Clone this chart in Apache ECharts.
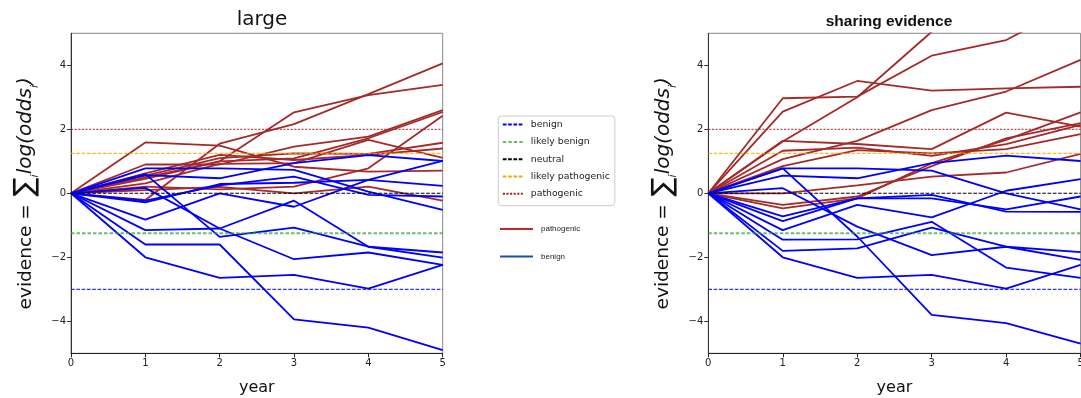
<!DOCTYPE html>
<html><head><meta charset="utf-8">
<script src="https://cdn.jsdelivr.net/npm/echarts@6/dist/echarts.min.js"></script>
<style>html,body{margin:0;padding:0;background:#fff}#c{width:1081px;height:398px}</style>
</head><body><div id="c"></div><script>
// ---- data ----
const years = [0, 1, 2, 3, 4, 5];
const yTicks = [-4, -2, 0, 2, 4];
const thresholdNames = ['benign', 'likely benign', 'neutral', 'likely pathogenic', 'pathogenic'];
const thresholdValues = [-3, -1.25, 0, 1.25, 2];
const panelTitles = ['large', 'sharing evidence'];

const largePathogenic = [
  [0, -0.21, 1.55, 2.16, 3.10, 4.06],
  [0, 0.45, 1.00, 2.53, 3.07, 3.39],
  [0, 1.59, 1.49, 0.83, 0.68, 0.71],
  [0, 0.90, 0.90, 1.46, 1.77, 2.60],
  [0, 0.50, 1.00, 1.09, 1.72, 2.54],
  [0, 0.55, 1.10, 1.25, 1.23, 1.58],
  [0, 0.62, 1.20, 1.04, 1.20, 1.40],
  [0, 0.31, 0.92, 0.94, 1.67, 1.11],
  [0, 0.21, 0.12, 0.21, 0.78, 2.42],
  [0, 0.10, 0.20, 0.00, 0.21, -0.23]
];
const largeBenign = [
  [0, 0.78, 0.78, 0.73, 0.05, -0.52],
  [0, 0.60, -1.36, -1.07, -1.67, -2.01],
  [0, 0.57, 0.47, 0.94, 1.19, 1.01],
  [0, 0.17, -1.10, -2.06, -1.85, -2.24],
  [0, -0.23, 0.25, 0.52, -0.05, -0.10],
  [0, -0.28, 0.29, 0.33, 0.42, 0.23],
  [0, -0.82, 0.00, -0.42, 0.42, 1.01],
  [0, -1.15, -1.10, -0.23, -1.67, -1.85],
  [0, -1.60, -1.60, -3.94, -4.20, -4.90],
  [0, -2.00, -2.64, -2.55, -2.98, -2.24]
];
const sharingPathogenic = [
  [0, 2.97, 3.02, 4.30, 4.79, 6.00],
  [0, 1.62, 3.00, 5.05, 5.90, 6.50],
  [0, 2.55, 3.51, 3.21, 3.28, 3.33],
  [0, 1.07, 1.64, 2.60, 3.18, 4.17],
  [0, 1.64, 1.54, 1.38, 2.52, 2.08],
  [0, 1.33, 1.43, 1.17, 1.54, 2.14],
  [0, 0.85, 1.35, 1.25, 1.38, 1.85],
  [0, 0.00, 0.25, 0.52, 0.65, 1.23],
  [0, -0.47, -0.16, 0.94, 1.67, 2.53],
  [0, -0.36, -0.10, 0.85, 1.72, 2.19]
];
const sharingBenign = [
  [0, 0.78, 0.78, 0.71, 0.00, -0.50],
  [0, 0.78, -1.35, -3.80, -4.06, -4.70],
  [0, 0.55, 0.47, 0.94, 1.18, 1.01],
  [0, 0.16, -1.04, -1.93, -1.67, -1.84],
  [0, -0.72, -0.16, -0.16, -0.50, -0.10],
  [0, -0.87, -0.16, -0.05, -0.57, -0.58],
  [0, -1.15, -0.36, -0.75, 0.08, 0.44],
  [0, -1.45, -1.44, -0.89, -2.32, -2.64],
  [0, -1.80, -1.72, -1.07, -1.67, -2.08],
  [0, -2.00, -2.64, -2.55, -2.98, -2.24]
];

// ---- styles ----
const RED = '#a52a2a', BLUE = '#0000ff';
const thresholdStyles = [
  {color: '#0000ff', width: 1, type: [3.7, 1.6]},
  {color: 'rgba(44,160,44,0.7)', width: 2, type: [3.5, 2]},
  {color: '#000000', width: 1.1, type: [3.7, 1.6]},
  {color: '#ffa500', width: 1, type: [3.7, 1.6]},
  {color: '#a52a2a', width: 1, type: [2.2, 1.4]}
];
const FONT = 'DejaVu Sans';
const NOSYM = {color: 'transparent', borderColor: 'transparent', borderWidth: 0};

function lineSeries(rows, g, name, color) {
  return rows.map(r => ({
    type: 'line', name: name, xAxisIndex: g, yAxisIndex: g,
    data: years.map((x, i) => [x, r[i]]),
    symbol: 'none', clip: true, silent: true, z: 3,
    lineStyle: {color: color, width: 1.8}, itemStyle: {color: color}
  }));
}
function thresholdSeries(g) {
  return thresholdNames.map((n, k) => ({
    type: 'line', name: n, xAxisIndex: g, yAxisIndex: g,
    data: [[years[0], thresholdValues[k]], [years[years.length - 1], thresholdValues[k]]],
    symbol: 'none', silent: true, z: 4,
    lineStyle: thresholdStyles[k], itemStyle: {color: thresholdStyles[k].color}
  }));
}

const grids = [
  {left: 71, top: 33.3, width: 371.7, height: 320},
  {left: 708.3, top: 33.3, width: 372.3, height: 320}
];
const yName = '{n|evidence = }{s|\u2211}{b|i}{o|log(odds}{b|i}{o|)}';

const option = {
  animation: false,
  backgroundColor: '#fff',
  title: [
    {text: panelTitles[0], left: 257, top: 5, textAlign: 'center',
     textStyle: {fontFamily: FONT, fontSize: 20, fontWeight: 'normal', color: '#111'}},
    {text: panelTitles[1], left: 884, top: 9, textAlign: 'center',
     textStyle: {fontFamily: 'Liberation Sans', fontSize: 15.5, fontWeight: 'bold', color: '#111'}}
  ],
  grid: grids.map(g => Object.assign({show: true, borderColor: '#888', borderWidth: 1,
    backgroundColor: 'transparent', containLabel: false, outerBoundsMode: 'none'}, g)),
  legend: [
    {data: thresholdNames.map(n => ({name: n, itemStyle: NOSYM})), orient: 'vertical', left: 498.3, top: 116, selectedMode: false,
     padding: [3.8, 5, 7, 3.5], itemWidth: 20, itemHeight: 12, itemGap: 7.7,
     itemStyle: NOSYM,
     borderColor: '#cccccc', borderWidth: 1, borderRadius: 3, backgroundColor: '#fff',
     textStyle: {fontFamily: FONT, fontSize: 9.3, color: '#222', padding: [0, 0, 0, 3]}},
    {data: [
       {name: 'pathogenic lines', lineStyle: {color: '#c62828', width: 2, type: 'solid'}, itemStyle: NOSYM},
       {name: 'benign lines', lineStyle: {color: '#1f4fb0', width: 2, type: 'solid'}, itemStyle: NOSYM}
     ],
     orient: 'vertical', left: 499, top: 225, selectedMode: false, padding: 0,
     itemWidth: 33, itemHeight: 10, itemGap: 19.4, itemStyle: NOSYM,
     formatter: n => n.replace(' lines', ''),
     textStyle: {fontFamily: 'Liberation Sans', fontSize: 8, color: '#222', padding: [0, 0, 0, 3]}}
  ],
  xAxis: [0, 1].map(g => ({
    type: 'value', gridIndex: g, min: years[0], max: years[years.length - 1], interval: 1,
    name: 'year', nameLocation: 'middle', nameGap: 27,
    nameTextStyle: {fontFamily: FONT, fontSize: 16, color: '#111'},
    axisLine: {show: true, onZero: false, lineStyle: {color: '#222', width: 1}},
    axisTick: {show: true, length: 4, lineStyle: {color: '#222'}},
    axisLabel: {fontFamily: FONT, fontSize: 10, color: '#222', margin: 5},
    splitLine: {show: false}
  })),
  yAxis: [0, 1].map(g => ({
    type: 'value', gridIndex: g, min: -5, max: 5,
    name: yName, nameLocation: 'middle', nameGap: 30, nameRotate: 90,
    nameTextStyle: {fontFamily: FONT, fontSize: 18.5, color: '#111',
      rich: {
        n: {fontFamily: FONT, fontSize: 18.5, color: '#111', lineHeight: 30, verticalAlign: 'middle'},
        s: {fontFamily: FONT, fontSize: 28, color: '#111', lineHeight: 30, verticalAlign: 'middle', padding: [0, 0, 0, 2]},
        b: {fontFamily: FONT, fontSize: 11, color: '#111', fontStyle: 'italic', lineHeight: 30, verticalAlign: 'bottom'},
        o: {fontFamily: FONT, fontSize: 20, color: '#111', fontStyle: 'italic', lineHeight: 30, verticalAlign: 'middle'}
      }},
    axisLine: {show: true, onZero: false, lineStyle: {color: '#333', width: 1}},
    axisTick: {show: true, length: 4, customValues: yTicks, lineStyle: {color: '#333'}},
    axisLabel: {fontFamily: FONT, fontSize: 10, color: '#222', margin: 5, customValues: yTicks,
      formatter: v => String(v).replace('-', '\u2212')},
    splitLine: {show: false}
  })),
  series: [].concat(
    lineSeries(largePathogenic, 0, 'pathogenic lines', RED),
    lineSeries(largeBenign, 0, 'benign lines', BLUE),
    thresholdSeries(0),
    lineSeries(sharingPathogenic, 1, 'pathogenic lines', RED),
    lineSeries(sharingBenign, 1, 'benign lines', BLUE),
    thresholdSeries(1)
  )
};
const chart = echarts.init(document.getElementById('c'), null, {renderer: 'canvas'});
chart.setOption(option);
</script></body></html>
